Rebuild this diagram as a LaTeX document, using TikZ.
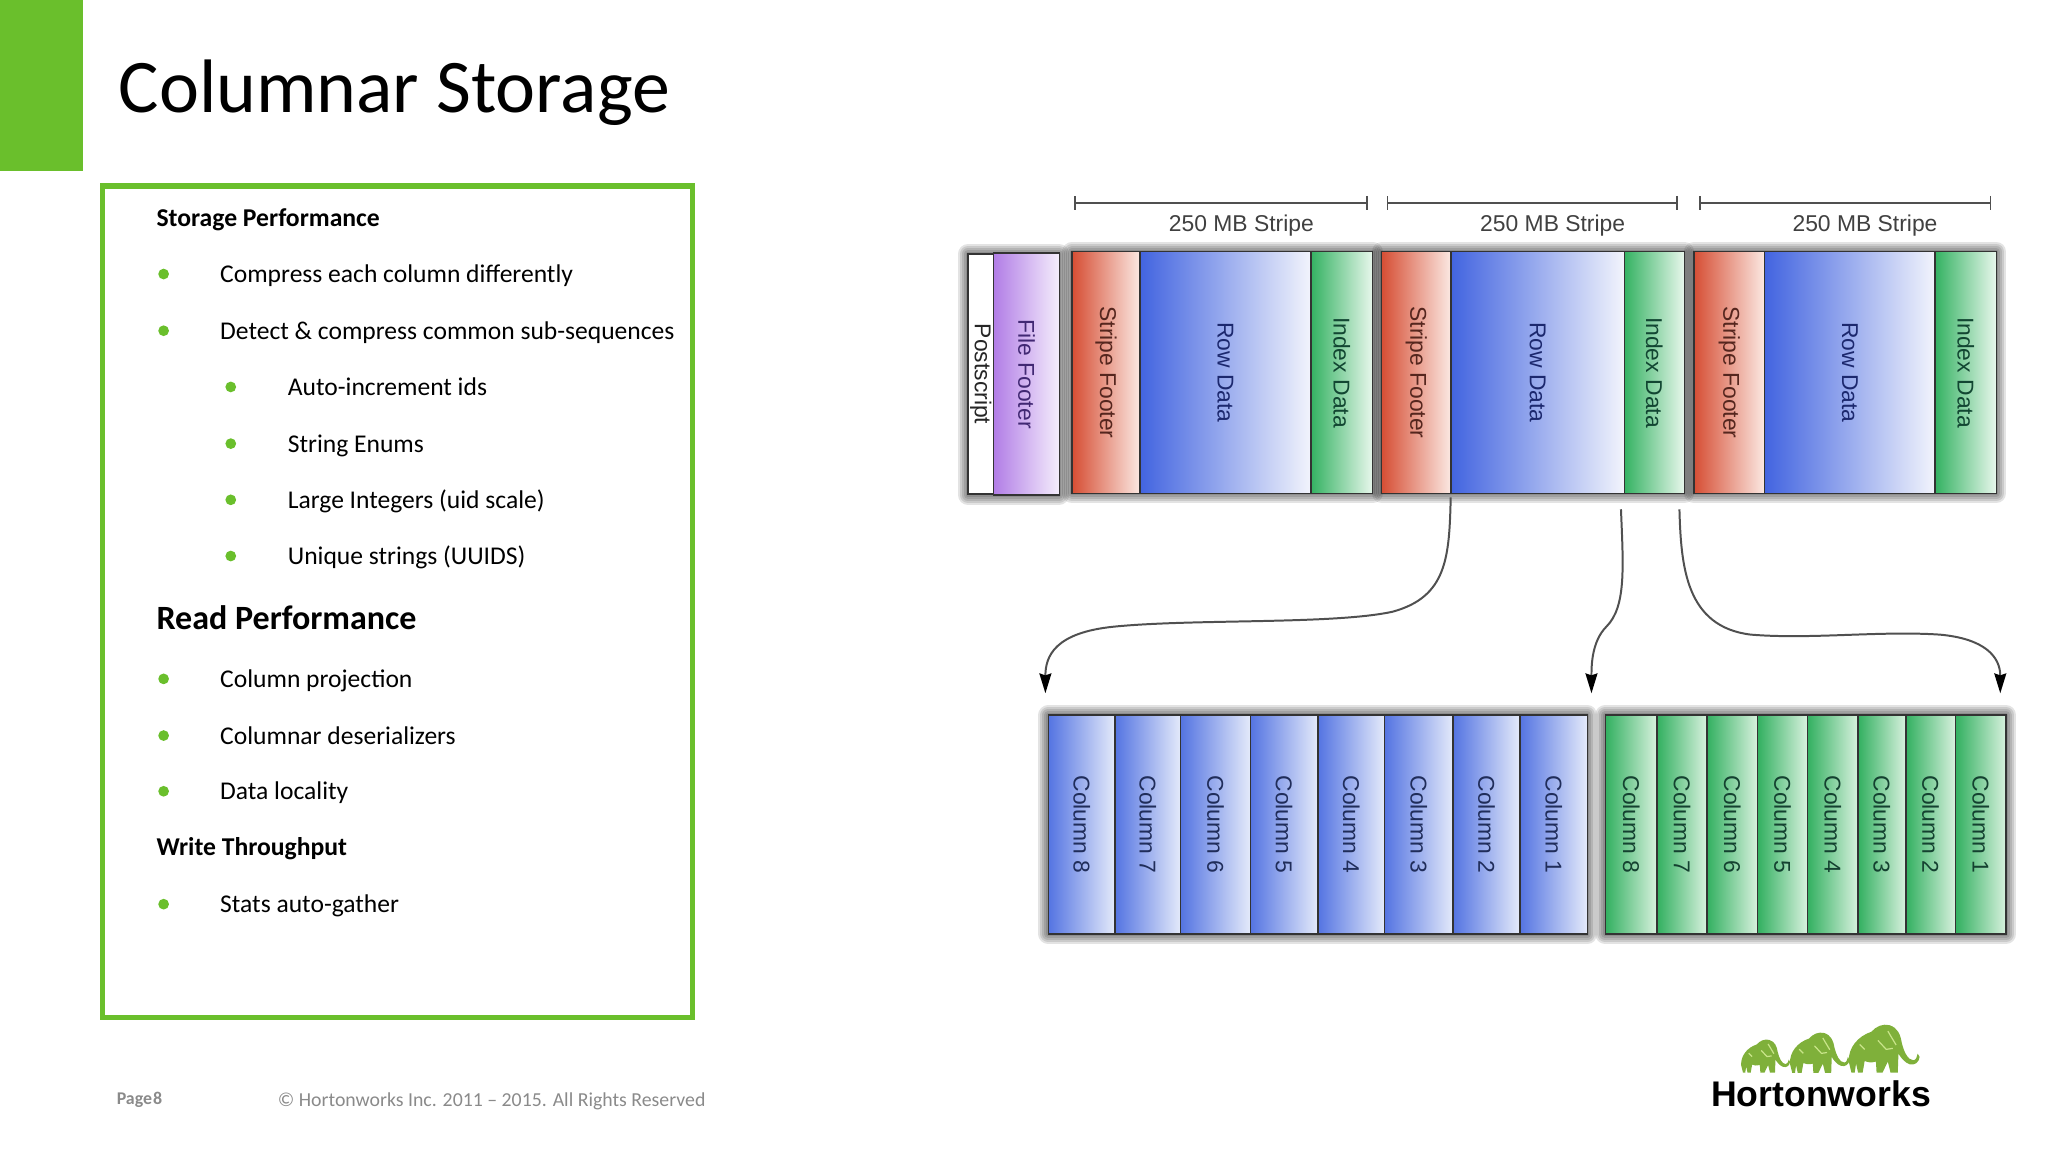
\documentclass[tikz,border=0pt]{standalone}
\usepackage{fontspec}
\setmainfont{Carlito}
\newfontfamily\diagfont{Liberation Sans}
\usetikzlibrary{arrows.meta,positioning,backgrounds}

\definecolor{hwgreen}{HTML}{6ABF2C}
\definecolor{elegreen}{HTML}{7FB03A}
\definecolor{elecrack}{HTML}{C9E58A}
\definecolor{footgray}{HTML}{8A8A8A}
\definecolor{linegray}{HTML}{505050}

\newcommand{\downtext}[1]{\rotatebox{-90}{#1}}
\newcommand{\rimshade}[2]{\foreach \w in {2,4,6,8,10}{\draw[line width=\w pt,black,opacity=.11,line join=round] (#1) rectangle (#2);}}

\tikzset{
  head/.style={font=\fontsize{12.9}{15}\selectfont\bfseries,anchor=base west,inner sep=0},
  bighead/.style={font=\fontsize{17.1}{20}\selectfont\bfseries,anchor=base west,inner sep=0},
  item/.style={font=\fontsize{12.85}{15}\selectfont,anchor=base west,inner sep=0},
  dot/.style={circle,fill=hwgreen,inner sep=0,minimum size=5.4pt},
  part/.style={draw=black!80,line width=.8pt,inner sep=0,outer sep=0,
    font=\diagfont\fontsize{11.5}{13}\selectfont},
  postpart/.style={part,fill=white,text=black!85,minimum height=120.5pt},
  filepart/.style={part,left color={rgb,255:red,178;green,125;blue,230},right color={rgb,255:red,244;green,238;blue,252},text={rgb,255:red,65;green,40;blue,115},minimum height=121.5pt},
  redpart/.style={part,left color={rgb,255:red,214;green,78;blue,52},right color={rgb,255:red,251;green,232;blue,226},text={rgb,255:red,85;green,38;blue,30},minimum height=121.5pt},
  bluepart/.style={part,left color={rgb,255:red,66;green,100;blue,224},right color={rgb,255:red,242;green,244;blue,252},text={rgb,255:red,28;green,40;blue,110},minimum height=121.5pt},
  greenpart/.style={part,left color={rgb,255:red,52;green,178;blue,98},right color={rgb,255:red,232;green,247;blue,236},text={rgb,255:red,18;green,70;blue,50},minimum height=121.5pt},
  bluecol/.style={part,left color={rgb,255:red,84;green,116;blue,226},right color={rgb,255:red,228;green,234;blue,250},text={rgb,255:red,32;green,45;blue,90},minimum height=110pt},
  greencol/.style={part,left color={rgb,255:red,50;green,176;blue,96},right color={rgb,255:red,216;green,241;blue,222},text={rgb,255:red,20;green,65;blue,48},minimum height=110pt},
  span/.style={{Bar[width=7pt]}-{Bar[width=7pt]},draw=linegray,line width=.9pt},
  spantext/.style={font=\diagfont\fontsize{11.5}{13}\selectfont,text=black!75,inner sep=0},
  flow/.style={-{Stealth[length=10pt,width=6pt,inset=1pt,black]},draw=linegray,line width=1pt},
  elephant/.pic={
    \fill[elegreen] (10,145) -- (2,112) .. controls (0,70) and (30,35) .. (70,22)
      .. controls (85,5) and (105,-3) .. (125,2) .. controls (150,10) and (158,30) .. (162,55)
      .. controls (168,80) and (180,108) .. (197,108) .. controls (206,108) and (208,95) .. (210,88)
      -- (216,98) .. controls (214,115) and (200,124) .. (186,120) .. controls (170,115) and (158,98) .. (152,88)
      -- (150,145) -- (128,145) -- (120,112) -- (104,145) -- (86,145) -- (84,112)
      .. controls (70,116) and (58,114) .. (50,110) -- (44,145) -- (30,145) -- (24,118) -- (20,145) -- cycle;
    \draw[elecrack,line width=.6pt] (90,48) -- (115,75) -- (135,72) (120,20) -- (145,62) (35,60) -- (50,75);
  }
}

\begin{document}
\begin{tikzpicture}[x=.5pt,y=-.5pt]
  \useasboundingbox (0,0) rectangle (2059,1158);
  % title bar
  \fill[hwgreen] (0,0) rectangle (83,172);
  \node[anchor=base west,inner sep=0,font=\fontsize{38.1}{42}\selectfont] (title) at (119,113) {Columnar Storage};
  \draw[hwgreen,line width=2.6pt] (103,187) rectangle (696,1023);

  % text list
  \node[head] (storage) at (157,227.5) {Storage Performance};
  \node[dot] (d1) at (164.5,275.5) {};
  \node[item] (compress) at (221,284) {Compress each column differently};
  \node[dot] (d2) at (164.5,332.5) {};
  \node[item] (detect) at (221,341) {Detect \& compress common sub-sequences};
  \node[dot] (d3) at (232,389) {};
  \node[item] (autoinc) at (289,398) {Auto-increment ids};
  \node[dot] (d4) at (232,446) {};
  \node[item] (enums) at (289,455) {String Enums};
  \node[dot] (d5) at (232,502.5) {};
  \node[item] (large) at (289,511) {Large Integers (uid scale)};
  \node[dot] (d6) at (232,559) {};
  \node[item] (unique) at (289,568) {Unique strings (UUIDS)};
  \node[bighead] (read) at (157,632.5) {Read Performance};
  \node[dot] (d7) at (164.5,682.5) {};
  \node[item] (project) at (221,691) {Column projection};
  \node[dot] (d8) at (164.5,739.5) {};
  \node[item] (deser) at (221,748) {Columnar deserializers};
  \node[dot] (d9) at (164.5,795.5) {};
  \node[item] (local) at (221,804) {Data locality};
  \node[head] (write) at (157,860.5) {Write Throughput};
  \node[dot] (d10) at (164.5,909) {};
  \node[item] (stats) at (221,917) {Stats auto-gather};

  % footer
  \node[anchor=base west,inner sep=0,text=footgray,font=\fontsize{9}{11}\selectfont\bfseries] (page) at (117,1110) {Page\kern-1pt\,8};
  \node[anchor=base west,inner sep=0,text=footgray,font=\fontsize{9.95}{12}\selectfont] (copy) at (279,1112) {© Hortonworks Inc. 2011 – 2015. All Rights Reserved};

  % logo
  \pic[scale=.23] at (1750,1045) {elephant};
  \pic[scale=.28] at (1799,1038) {elephant};
  \pic[scale=.333] at (1858,1030) {elephant};
  \node[anchor=base west,inner sep=0,font=\diagfont\fontsize{17.9}{20}\selectfont\bfseries] (logo) at (1720,1112) {Hortonworks};

  % stripe spans
  \draw[span] (1080,204) -- (1375,204);
  \draw[span] (1394,204) -- (1687,204);
  \draw[span] (1708,204) -- (2002,204);
  \node[spantext] (s1) at (1248,227) {250 MB Stripe};
  \node[spantext] (s2) at (1561,227) {250 MB Stripe};
  \node[spantext] (s3) at (1875,227) {250 MB Stripe};

  % file tail
  \node[postpart,minimum width=13pt,anchor=west] (ps) at (973,376) {\downtext{Postscript}};
  \node[filepart,minimum width=33pt,right=0pt of ps] (ff) {\downtext{File Footer}};

  % stripes
  \node[redpart,minimum width=34pt,anchor=west] (sf1) at (1078,374.5) {\downtext{Stripe Footer}};
  \node[bluepart,minimum width=86pt,right=0pt of sf1] (rd1) {\downtext{Row Data}};
  \node[greenpart,minimum width=31pt,right=0pt of rd1] (id1) {\downtext{Index Data}};
  \node[redpart,minimum width=34.75pt,anchor=west] (sf2) at (1389,374.5) {\downtext{Stripe Footer}};
  \node[bluepart,minimum width=87.25pt,right=0pt of sf2] (rd2) {\downtext{Row Data}};
  \node[greenpart,minimum width=30.25pt,right=0pt of rd2] (id2) {\downtext{Index Data}};
  \node[redpart,minimum width=35.5pt,anchor=west] (sf3) at (1703,374.5) {\downtext{Stripe Footer}};
  \node[bluepart,minimum width=85.75pt,right=0pt of sf3] (rd3) {\downtext{Row Data}};
  \node[greenpart,minimum width=30.75pt,right=0pt of rd3] (id3) {\downtext{Index Data}};

  % row columns
  \node[bluecol,minimum width=33.5pt,anchor=west] (b8) at (1054,829) {\downtext{Column 8}};
  \node[bluecol,minimum width=33pt,right=0pt of b8] (b7) {\downtext{Column 7}};
  \node[bluecol,minimum width=35pt,right=0pt of b7] (b6) {\downtext{Column 6}};
  \node[bluecol,minimum width=34pt,right=0pt of b6] (b5) {\downtext{Column 5}};
  \node[bluecol,minimum width=33.5pt,right=0pt of b5] (b4) {\downtext{Column 4}};
  \node[bluecol,minimum width=34.5pt,right=0pt of b4] (b3) {\downtext{Column 3}};
  \node[bluecol,minimum width=33.5pt,right=0pt of b3] (b2) {\downtext{Column 2}};
  \node[bluecol,minimum width=34pt,right=0pt of b2] (b1) {\downtext{Column 1}};

  % index columns
  \node[greencol,minimum width=26pt,anchor=west] (g8) at (1614,829) {\downtext{Column 8}};
  \node[greencol,minimum width=25pt,right=0pt of g8] (g7) {\downtext{Column 7}};
  \node[greencol,minimum width=25.5pt,right=0pt of g7] (g6) {\downtext{Column 6}};
  \node[greencol,minimum width=25pt,right=0pt of g6] (g5) {\downtext{Column 5}};
  \node[greencol,minimum width=25.5pt,right=0pt of g5] (g4) {\downtext{Column 4}};
  \node[greencol,minimum width=24pt,right=0pt of g4] (g3) {\downtext{Column 3}};
  \node[greencol,minimum width=25pt,right=0pt of g3] (g2) {\downtext{Column 2}};
  \node[greencol,minimum width=25.5pt,right=0pt of g2] (g1) {\downtext{Column 1}};

  \begin{scope}[on background layer]
    \rimshade{ps.north west}{ff.south east}
    \rimshade{sf1.north west}{id1.south east}
    \rimshade{sf2.north west}{id2.south east}
    \rimshade{sf3.north west}{id3.south east}
    \rimshade{b8.north west}{b1.south east}
    \rimshade{g8.north west}{g1.south east}
  \end{scope}

  % arrows to the columns
  \coordinate (t1) at (1051,697);
  \coordinate (t2) at (1600,697);
  \coordinate (t3) at (2011,697);
  \draw[flow] ([yshift=-2pt]rd2.south west) .. controls (1457,560) and (1455,600) .. (1400,615)
    .. controls (1340,628) and (1200,622) .. (1120,630) .. controls (1060,636) and (1051,660) .. (t1);
  \draw[flow,shorten <=8pt] ([xshift=-2pt]id2.south west) .. controls (1632,570) and (1635,610) .. (1615,630)
    .. controls (1600,645) and (1600,670) .. (t2);
  \draw[flow,shorten <=8pt] ([xshift=-2.75pt]id2.south east) .. controls (1690,570) and (1695,630) .. (1760,638)
    .. controls (1820,643) and (1890,634) .. (1950,638) .. controls (1995,642) and (2011,660) .. (t3);
\end{tikzpicture}
\end{document}
